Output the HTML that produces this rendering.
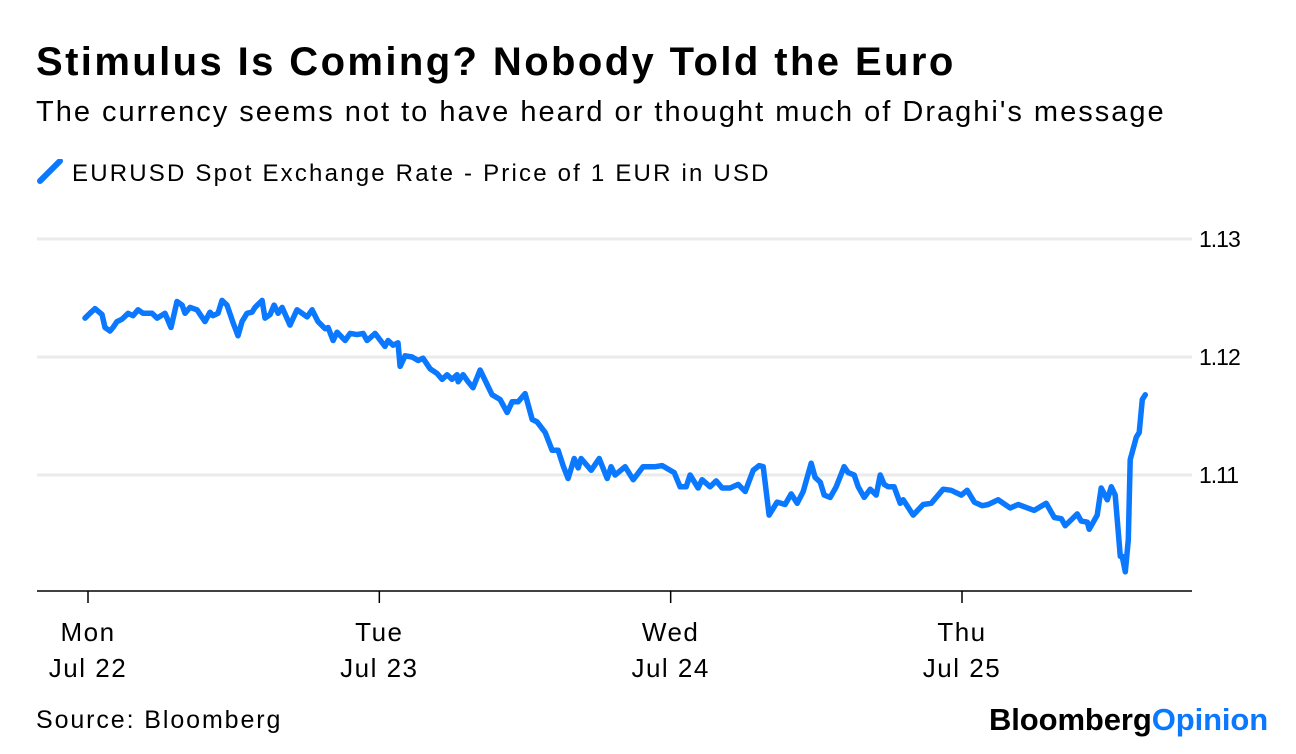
<!DOCTYPE html>
<html><head><meta charset="utf-8"><style>
body{margin:0;background:#fff;font-family:"Liberation Sans",sans-serif;color:#000}
#wrap{position:relative;width:1296px;height:754px;overflow:hidden}
.t{position:absolute;white-space:nowrap}
</style></head><body>
<div id="wrap">
<div class="t" style="left:36px;top:40px;font-size:40px;font-weight:bold;letter-spacing:2.4px">Stimulus Is Coming? Nobody Told the Euro</div>
<div class="t" style="left:36px;top:96px;font-size:29px;letter-spacing:2px">The currency seems not to have heard or thought much of Draghi's message</div>
<div class="t" style="left:36px;top:159px;font-size:24px;letter-spacing:2.2px"><svg width="36" height="26" style="vertical-align:-4px"><line x1="4" y1="22" x2="24" y2="2" stroke="#0a78ff" stroke-width="6" stroke-linecap="round"/></svg>EURUSD Spot Exchange Rate - Price of 1 EUR in USD</div>
<svg id="plot" width="1296" height="754" style="position:absolute;left:0;top:0"></svg>
<div class="t" style="left:36px;top:706px;font-size:25px;letter-spacing:1.9px">Source: Bloomberg</div>
<div class="t" style="left:989px;top:702px;font-size:31px;font-weight:bold;letter-spacing:-0.1px">Bloomberg<span style="color:#0a78ff">Opinion</span></div>
</div>
<script>
const hours=[-0.25,0.16,0.58,1.15,1.40,1.81,2.06,2.39,2.80,3.30,3.71,4.12,4.53,5.27,5.69,6.34,6.84,7.33,7.75,7.99,8.40,8.98,9.64,10.05,10.30,10.71,11.04,11.45,11.95,12.36,12.69,13.10,13.51,13.76,14.34,14.58,15.00,15.33,15.66,15.99,16.64,17.22,17.63,18.05,18.46,18.95,19.53,19.78,20.19,20.52,21.18,21.59,22.17,22.66,22.99,23.65,24.47,24.72,25.13,25.54,25.71,26.12,26.70,27.19,27.60,28.18,28.76,29.17,29.58,29.99,30.41,30.49,30.90,31.31,31.72,32.30,33.29,33.95,34.53,34.94,35.43,36.01,36.59,37.00,37.66,38.23,38.73,39.14,39.55,40.05,40.38,40.62,41.45,42.11,42.77,43.09,43.42,44.25,44.91,45.73,46.72,47.30,48.29,48.78,49.28,49.60,50.26,50.59,51.25,51.75,52.24,52.90,53.56,54.14,54.80,55.29,55.62,56.11,56.77,57.43,57.93,58.42,58.92,59.58,59.90,60.32,60.65,61.14,61.64,62.29,62.62,63.12,63.45,63.94,64.44,64.93,65.26,65.59,65.92,66.41,66.91,67.16,67.98,68.80,69.46,70.45,71.11,71.94,72.43,73.01,73.67,74.16,74.98,75.97,76.63,77.95,78.94,79.60,80.18,80.50,81.49,81.82,82.32,82.48,83.14,83.47,83.97,84.30,84.62,85.04,85.20,85.45,85.70,85.86,86.36,86.60,86.85,87.10];
const rates=[1.1233,1.1237,1.1241,1.1236,1.1225,1.1222,1.1225,1.1230,1.1232,1.1237,1.1235,1.1240,1.1237,1.1237,1.1233,1.1237,1.1225,1.1247,1.1244,1.1237,1.1242,1.1240,1.1230,1.1238,1.1235,1.1237,1.1248,1.1244,1.1229,1.1218,1.1230,1.1237,1.1238,1.1242,1.1248,1.1233,1.1236,1.1244,1.1237,1.1242,1.1227,1.1240,1.1237,1.1234,1.1240,1.1230,1.1224,1.1225,1.1214,1.1221,1.1214,1.1220,1.1219,1.1220,1.1214,1.1220,1.1209,1.1214,1.1210,1.1212,1.1192,1.1201,1.1200,1.1197,1.1199,1.1190,1.1186,1.1181,1.1185,1.1181,1.1185,1.1179,1.1185,1.1179,1.1174,1.1189,1.1168,1.1164,1.1153,1.1162,1.1162,1.1169,1.1147,1.1145,1.1136,1.1121,1.1121,1.1108,1.1097,1.1114,1.1106,1.1114,1.1104,1.1114,1.1097,1.1107,1.1100,1.1107,1.1096,1.1107,1.1107,1.1108,1.1102,1.1090,1.1090,1.1100,1.1089,1.1096,1.1090,1.1095,1.1089,1.1089,1.1092,1.1086,1.1104,1.1108,1.1107,1.1066,1.1077,1.1075,1.1084,1.1076,1.1086,1.1110,1.1098,1.1094,1.1083,1.1081,1.1090,1.1107,1.1102,1.1100,1.1090,1.1081,1.1088,1.1083,1.1100,1.1092,1.1090,1.1090,1.1076,1.1079,1.1066,1.1075,1.1076,1.1088,1.1087,1.1083,1.1087,1.1077,1.1074,1.1075,1.1079,1.1072,1.1075,1.1070,1.1076,1.1064,1.1063,1.1057,1.1067,1.1061,1.1060,1.1054,1.1066,1.1089,1.1079,1.1090,1.1083,1.1031,1.1031,1.1018,1.1045,1.1113,1.1132,1.1136,1.1164,1.1168];
const yTicks=[1.11,1.12,1.13];
const yTickLabels=["1.11","1.12","1.13"];
const dayHours=[0,24,48,72];
const dayNames=["Mon","Tue","Wed","Thu"];
const dayDates=["Jul 22","Jul 23","Jul 24","Jul 25"];

const NS="http://www.w3.org/2000/svg";
const svg=document.getElementById('plot');
const xS=h=>88+h*(874/72);
const yS=v=>239+(1.13-v)*11800;
function mk(tag,attrs){const e=document.createElementNS(NS,tag);for(const k in attrs)e.setAttribute(k,attrs[k]);svg.appendChild(e);return e;}
yTicks.forEach((v,i)=>{
  const g=mk('line',{x1:37,x2:1192,y1:yS(v),y2:yS(v),stroke:'#ebebeb','stroke-width':3});
  
  
  const t=mk('text',{x:1199,y:yS(v)+8,'font-size':23,'font-family':'Liberation Sans, sans-serif',fill:'#000','letter-spacing':'-1'});
  t.textContent=yTickLabels[i];
  
  
});
const ax=mk('line',{x1:37,x2:1192,y1:591,y2:591,stroke:'#000','stroke-width':1.5});


dayHours.forEach((h,i)=>{
  const tk=mk('line',{x1:xS(h),x2:xS(h),y1:591,y2:603,stroke:'#000','stroke-width':1.5});
  
  
  const t1=mk('text',{x:xS(h),y:641,'text-anchor':'middle','font-size':26,'font-family':'Liberation Sans, sans-serif','letter-spacing':'1.5'});
  t1.textContent=dayNames[i];
  
  
  const t2=mk('text',{x:xS(h),y:677,'text-anchor':'middle','font-size':26,'font-family':'Liberation Sans, sans-serif','letter-spacing':'1.5'});
  t2.textContent=dayDates[i];
  
  
});
const d=hours.map((h,i)=>(i?'L':'M')+xS(h).toFixed(1)+','+yS(rates[i]).toFixed(1)).join('');
const p=mk('path',{d:d,fill:'none',stroke:'#0a78ff','stroke-width':5.5,'stroke-linejoin':'round','stroke-linecap':'round'});


</script>
</body></html>
